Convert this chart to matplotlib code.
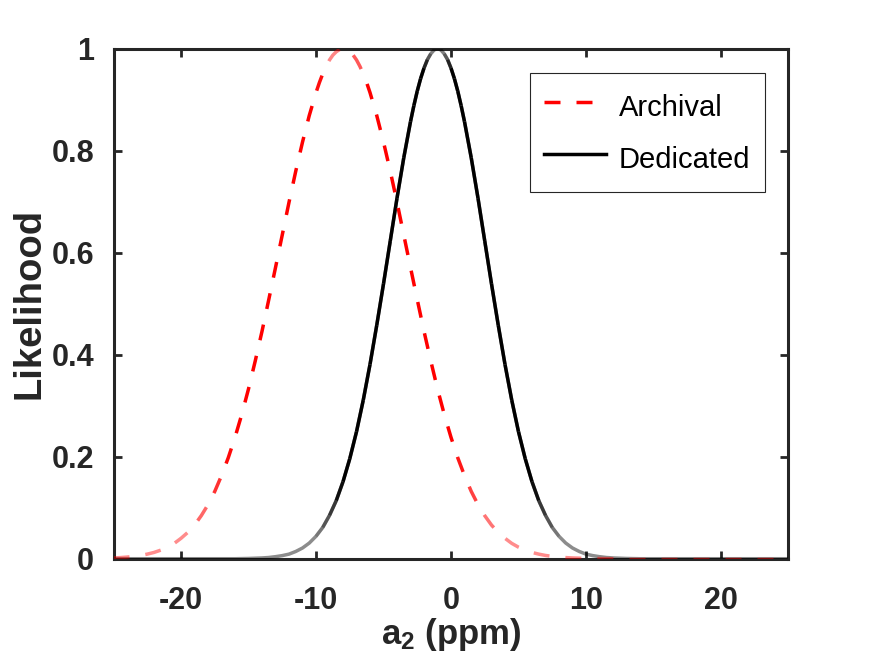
import numpy as np
import matplotlib
matplotlib.use('Agg')
import matplotlib.pyplot as plt
from matplotlib.collections import LineCollection
from matplotlib.lines import Line2D

# likelihood curves
archival_x = [-25, -24.5, -24, -23.5, -23, -22.5, -22, -21.5, -21, -20.5, -20, -19.5, -19,
              -18.5, -18, -17.5, -17, -16.5, -16, -15.5, -15, -14.5, -14, -13.5, -13,
              -12.5, -12, -11.5, -11, -10.5, -10, -9.75, -9.5, -9.25, -9, -8.75, -8.5,
              -8.25, -8, -7.75, -7.5, -7.25, -7, -6.75, -6.5, -6.25, -6, -5.5, -5, -4.5,
              -4, -3.5, -3, -2.5, -2, -1.5, -1, -0.5, 0, 0.5, 1, 1.5, 2, 2.5, 3, 3.5,
              4, 4.5, 5, 5.5, 6, 6.5, 7, 7.5, 8, 8.5, 9, 10, 11, 12, 25]
archival_y = [0.0015, 0.0022, 0.0032, 0.0046, 0.0064, 0.0090, 0.0123, 0.0168, 0.0226,
              0.0301, 0.040, 0.0516, 0.066, 0.0844, 0.106, 0.132, 0.163, 0.198, 0.238,
              0.283, 0.333, 0.388, 0.446, 0.508, 0.571, 0.635, 0.699, 0.760, 0.817,
              0.869, 0.914, 0.9336, 0.951, 0.9656, 0.978, 0.9875, 0.994, 0.9986, 1.0,
              0.9986, 0.994, 0.9875, 0.978, 0.9656, 0.951, 0.9336, 0.914, 0.869, 0.817,
              0.760, 0.699, 0.635, 0.571, 0.508, 0.446, 0.388, 0.333, 0.283, 0.238,
              0.198, 0.163, 0.132, 0.106, 0.0844, 0.066, 0.0516, 0.040, 0.0301, 0.0226,
              0.0168, 0.0123, 0.0090, 0.0064, 0.0046, 0.0032, 0.0022, 0.0015, 0.0007,
              0.0003, 0.0, 0.0]

dedicated_x = [-25, -16, -15, -14, -13.5, -13, -12.5, -12, -11.5, -11, -10.5, -10, -9.5,
               -9, -8.5, -8, -7.5, -7, -6.5, -6, -5.5, -5, -4.5, -4, -3.5, -3, -2.75,
               -2.5, -2.25, -2, -1.75, -1.5, -1.25, -1, -0.75, -0.5, -0.25, 0, 0.25, 0.5,
               0.75, 1, 1.5, 2, 2.5, 3, 3.5, 4, 4.5, 5, 5.5, 6, 6.5, 7, 7.5, 8, 8.5, 9,
               9.5, 10, 10.5, 11, 11.5, 12, 13, 14, 25]
dedicated_y = [0.0, 0.0, 0.0005, 0.0015, 0.0024, 0.004, 0.0061, 0.009, 0.0142, 0.021,
               0.0307, 0.044, 0.0614, 0.085, 0.114, 0.151, 0.196, 0.249, 0.311, 0.381,
               0.458, 0.539, 0.623, 0.707, 0.786, 0.857, 0.8885, 0.917, 0.9415, 0.962,
               0.9785, 0.990, 0.9976, 1.0, 0.9976, 0.990, 0.9785, 0.962, 0.9415, 0.917,
               0.8885, 0.857, 0.786, 0.707, 0.623, 0.539, 0.458, 0.381, 0.311, 0.249,
               0.196, 0.151, 0.114, 0.085, 0.0614, 0.044, 0.0307, 0.021, 0.0142, 0.009,
               0.0061, 0.004, 0.0024, 0.0015, 0.0005, 0.0, 0.0]

x_ticks = [-20, -10, 0, 10, 20]
y_ticks = [0, 0.2, 0.4, 0.6, 0.8, 1]
y_tick_labels = ['0', '0.2', '0.4', '0.6', '0.8', '1']

DARK = '#262626'
LW = 2.5
DASH_PX = 16
BASE_ALPHA = 0.45

plt.rcParams['font.family'] = ['Liberation Sans', 'DejaVu Sans']
plt.rcParams['axes.unicode_minus'] = False
plt.rcParams['mathtext.fontset'] = 'custom'
plt.rcParams['mathtext.rm'] = 'Liberation Sans:bold'
plt.rcParams['mathtext.it'] = 'Liberation Sans:bold'
plt.rcParams['mathtext.bf'] = 'Liberation Sans:bold'


def fade_alpha(px, py):
    # the original lines get lighter where they run flat
    slope = np.abs(np.diff(py)) / np.maximum(np.abs(np.diff(px)), 1e-9)
    return BASE_ALPHA + (1 - BASE_ALPHA) * np.clip((slope - 1.0) / 2.0, 0, 1)


def dash_pieces(pts, on, off):
    seg = np.hypot(*np.diff(pts, axis=0).T)
    cum = np.concatenate([[0.0], np.cumsum(seg)])
    pieces = []
    start = 0.0
    while start < cum[-1]:
        end = min(start + on, cum[-1])
        inner = (cum > start) & (cum < end)
        s = np.concatenate([[start], cum[inner], [end]])
        pieces.append(np.column_stack([np.interp(s, cum, pts[:, 0]),
                                       np.interp(s, cum, pts[:, 1])]))
        start += on + off
    return pieces


fig = plt.figure(figsize=(8.72, 6.54), dpi=100)
ax = fig.add_axes([0.1302, 0.1457, 0.774, 0.7798])
ax.set_xlim(-25, 25)
ax.set_ylim(0, 1)

to_px = ax.transData
to_data = ax.transData.inverted()

# Dedicated: light base line, darker overlay where the curve is steep
ax.plot(dedicated_x, dedicated_y, color='black', lw=LW, alpha=BASE_ALPHA,
        solid_joinstyle='round', zorder=3)
ded = np.column_stack([dedicated_x, dedicated_y])
ded_px = to_px.transform(ded)
a = fade_alpha(ded_px[:, 0], ded_px[:, 1])
extra = (a - BASE_ALPHA) / (1 - BASE_ALPHA)
segs = np.stack([ded[:-1], ded[1:]], axis=1)
keep = extra > 0.01
ax.add_collection(LineCollection(segs[keep], colors=[(0, 0, 0, v) for v in extra[keep]],
                                 linewidths=LW, capstyle='butt', zorder=3))

# Archival: red dashes, each dash faded by its slope
arc = np.column_stack([archival_x, archival_y])
arc_px = to_px.transform(arc)
pieces, cols = [], []
for p in dash_pieces(arc_px, DASH_PX, DASH_PX):
    dx = abs(p[-1, 0] - p[0, 0])
    dy = abs(p[-1, 1] - p[0, 1])
    v = fade_alpha(np.array([0, dx]), np.array([0, dy]))[0]
    pieces.append(to_data.transform(p))
    cols.append((1, 0, 0, v))
ax.add_collection(LineCollection(pieces, colors=cols, linewidths=LW,
                                 capstyle='butt', joinstyle='round', zorder=3))

ax.set_xticks(x_ticks)
ax.set_yticks(y_ticks)
ax.set_yticklabels(y_tick_labels)
ax.tick_params(direction='in', length=6, width=2, colors=DARK,
               top=True, right=True, labelsize=22)
ax.tick_params(axis='x', pad=20)
ax.tick_params(axis='y', pad=14)
for lab in ax.get_xticklabels() + ax.get_yticklabels():
    lab.set_fontweight('bold')
for sp in ax.spines.values():
    sp.set_linewidth(2.2)
    sp.set_color(DARK)

ax.set_xlabel('a$_2$ (ppm)', fontsize=25, fontweight='bold', color=DARK, labelpad=0)
ax.set_ylabel('Likelihood', fontsize=27.5, fontweight='bold', color=DARK, labelpad=3)

dash_pt = DASH_PX * 0.72 / LW
handles = [Line2D([], [], color='red', lw=LW, linestyle=(0, (dash_pt, dash_pt))),
           Line2D([], [], color='black', lw=LW)]
leg = ax.legend(handles, ['Archival', 'Dedicated'], loc='upper right',
                bbox_to_anchor=(0.965, 0.952), borderaxespad=0, fontsize=21,
                fancybox=False, framealpha=1, edgecolor=DARK, borderpad=0.5,
                labelspacing=0.51, handlelength=2.1, handleheight=1.6,
                handletextpad=0.45)
leg.get_frame().set_linewidth(0.8)
leg.set_zorder(5)

fig.savefig('out.png', dpi=100)
